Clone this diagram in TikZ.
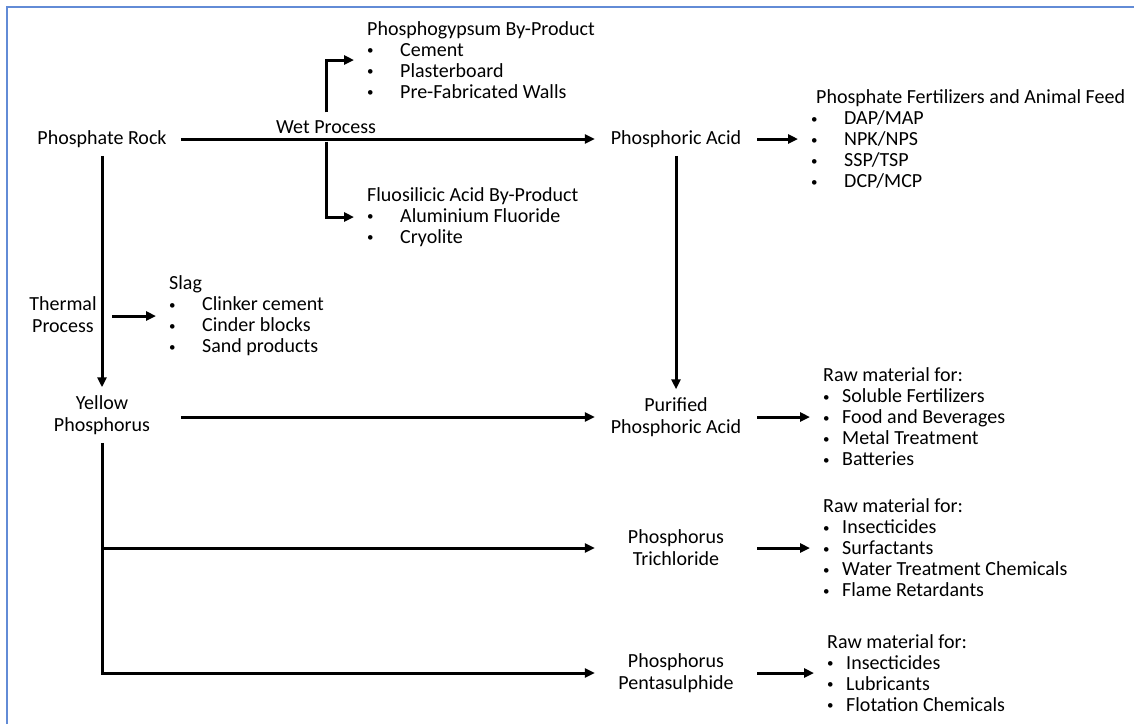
\documentclass[tikz,border=0pt]{standalone}
\usepackage{fontspec}
\setmainfont{Carlito}
\usetikzlibrary{arrows.meta,positioning}
\definecolor{frameblue}{RGB}{98,139,214}

% list entries: small bullet box + text
\newcommand{\smalldot}{\raisebox{1.5pt}{\fontsize{13}{13}\selectfont\textbullet}}
\newcommand{\bul}[1]{\makebox[33pt][l]{\smalldot}#1}
\newcommand{\sbul}[1]{\makebox[19pt][l]{\smalldot}#1}

\tikzset{
  flow/.style={line width=3pt, -{Triangle[length=10pt,width=9pt]}},
  stage/.style={align=center, inner xsep=14pt, inner ysep=8pt, font=\fontsize{20}{22}\selectfont},
  chem/.style={stage, minimum width=162pt},
  uses/.style={align=left, anchor=west, inner xsep=13pt, font=\fontsize{20}{21}\selectfont},
}

\begin{document}
\begin{tikzpicture}[x=1pt,y=-1pt]
  \useasboundingbox (0,0) rectangle (1134,724);
  % frame
  \draw[frameblue, line width=1.5pt] (7,724) -- (7,7) -- (1134,7);

  % Rock and wet process
  \node[stage] (rock) at (102,139) {Phosphate Rock};
  \node[stage] (wet) at (326,127) {Wet Process};
  \node[chem] (acid) at (676,139) {Phosphoric Acid};
  \node[uses] (gypsum) at (354,60) {Phosphogypsum By-Product\\\bul{Cement}\\\bul{Plasterboard}\\\bul{Pre-Fabricated Walls}};
  \node[uses] (fluo) at (354,217) {Fluosilicic Acid By-Product\\\bul{Aluminium Fluoride}\\\bul{Cryolite}};
  \node[uses] (fert) at (798,139) {\hspace*{5pt}Phosphate Fertilizers and Animal Feed\\\bul{DAP/MAP}\\\bul{NPK/NPS}\\\bul{SSP/TSP}\\\bul{DCP/MCP}};

  % Thermal process
  \node[stage] (thermal) at (63,315) {Thermal\\Process};
  \coordinate (slagfrom) at (112,316);
  \node[uses] (slag) at (156,316) {Slag\\\bul{Clinker cement}\\\bul{Cinder blocks}\\\bul{Sand products}};
  \node[stage] (yellow) at (102,415) {Yellow\\Phosphorus};

  % Phosphorus products
  \node[chem] (purified) at (676,417) {Purified\\Phosphoric Acid};
  \node[chem] (trich) at (676,548) {Phosphorus\\Trichloride};
  \node[chem] (penta) at (676,673) {Phosphorus\\Pentasulphide};
  \node[uses] (rawpure) at (810,417) {Raw material for:\\\sbul{Soluble Fertilizers}\\\sbul{Food and Beverages}\\\sbul{Metal Treatment}\\\sbul{Batteries}};
  \node[uses] (rawtri) at (810,548) {Raw material for:\\\sbul{Insecticides}\\\sbul{Surfactants}\\\sbul{Water Treatment Chemicals}\\\sbul{Flame Retardants}};
  \node[uses] (rawpenta) at (814,673) {Raw material for:\\\sbul{Insecticides}\\\sbul{Lubricants}\\\sbul{Flotation Chemicals}};

  % Connections
  \draw[flow] (rock) -- (acid);
  \draw[flow] (wet.north) |- (gypsum.west);
  \draw[flow] (wet.south) |- (fluo.west);
  \draw[flow] (acid) -- (fert);
  \draw[flow] (rock) -- (yellow);
  \draw[flow] (slagfrom) -- (slag.west);
  \draw[flow] (acid) -- (purified);
  \draw[flow] (rock.east |- purified) -- (purified);
  \draw[flow] (purified) -- (rawpure);
  \draw[flow] (yellow.south |- trich) -- (trich);
  \draw[flow] (yellow.south) |- (penta);
  \draw[flow] (trich) -- (rawtri);
  \draw[flow] (penta) -- (rawpenta);
\end{tikzpicture}
\end{document}
